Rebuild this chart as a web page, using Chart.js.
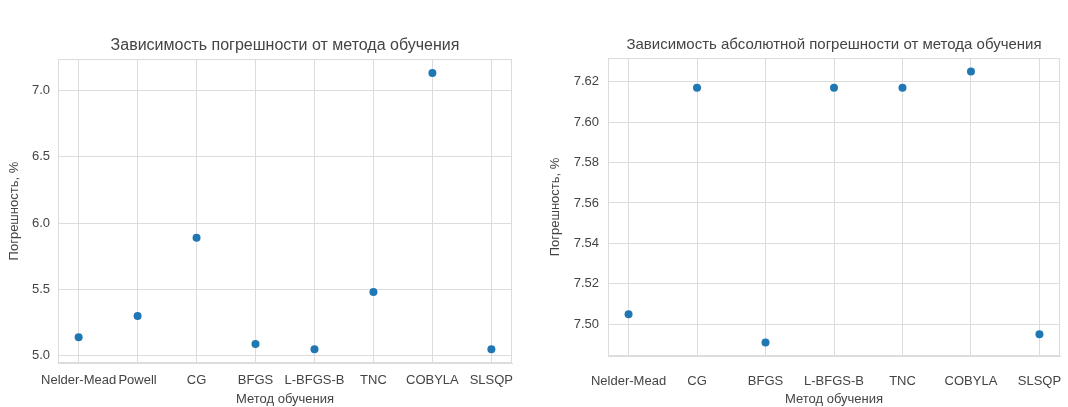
<!DOCTYPE html>
<html>
<head>
<meta charset="utf-8">
<script src="https://cdn.jsdelivr.net/npm/chart.js@4"></script>
<style>
    body { margin: 0; background: #fff; width: 1068px; height: 407px; overflow: hidden; position: relative; }
    .box { position: absolute; top: 0; width: 534px; height: 407px; }
</style>
</head>
<body>
<div class="box" style="left: 0;"><canvas id="errorChart" width="534" height="407"></canvas></div>
<div class="box" style="left: 534px;"><canvas id="absErrorChart" width="534" height="407"></canvas></div>
<script>
// Data
const errorMethods = ['Nelder-Mead', 'Powell', 'CG', 'BFGS', 'L-BFGS-B', 'TNC', 'COBYLA', 'SLSQP'];
const errorValues = [5.14, 5.30, 5.89, 5.09, 5.05, 5.48, 7.13, 5.05];
const errorTicks = [5.0, 5.5, 6.0, 6.5, 7.0];

const absMethods = ['Nelder-Mead', 'CG', 'BFGS', 'L-BFGS-B', 'TNC', 'COBYLA', 'SLSQP'];
const absValues = [7.505, 7.617, 7.491, 7.617, 7.617, 7.625, 7.495];
const absTicks = [7.50, 7.52, 7.54, 7.56, 7.58, 7.60, 7.62];

// Style
const BLUE = '#1f77b4';
const TEXT = '#444444';
const GRID = '#dcdcdc';
Chart.defaults.font.family = "'Liberation Sans', Arial, sans-serif";

// draw the light frame around the plot area (matplotlib-style spines)
const framePlugin = {
    id: 'frame',
    afterDatasetsDraw(chart) {
        const { ctx, chartArea: a } = chart;
        ctx.save();
        ctx.strokeStyle = GRID;
        ctx.lineWidth = 1;
        ctx.strokeRect(Math.round(a.left) + 0.5, Math.round(a.top) + 0.5,
            Math.round(a.right - a.left) - 1, Math.round(a.bottom - a.top) - 1);
        ctx.restore();
    }
};

function buildChart(id, o) {
    const n = o.labels.length;
    const xPad = (n - 1) * 0.05;
    const lo = Math.min(...o.values);
    const hi = Math.max(...o.values);
    const yPad = (hi - lo) * 0.05;

    return new Chart(document.getElementById(id), {
        type: 'scatter',
        data: {
            datasets: [{
                data: o.values.map((v, i) => ({ x: i, y: v })),
                backgroundColor: BLUE,
                borderWidth: 0,
                pointRadius: 4,
                pointHoverRadius: 4
            }]
        },
        options: {
            responsive: false,
            animation: false,
            layout: { padding: { left: 0, right: o.padRight, top: 0, bottom: 0 } },
            plugins: {
                legend: { display: false },
                tooltip: { enabled: false },
                title: {
                    display: true,
                    text: o.title,
                    fullSize: false,
                    color: TEXT,
                    font: { size: o.titleSize, weight: 'normal' },
                    padding: { top: o.titleTop, bottom: o.titleBottom }
                }
            },
            scales: {
                x: {
                    type: 'linear',
                    min: -xPad,
                    max: n - 1 + xPad,
                    afterBuildTicks: s => { s.ticks = o.labels.map((_, i) => ({ value: i })); },
                    afterFit: s => {
                        s.height = o.xHeight;
                        s.paddingLeft = 0;
                        s.paddingRight = 0;
                    },
                    grid: { color: GRID, drawTicks: false },
                    border: { color: GRID },
                    ticks: {
                        color: TEXT,
                        font: { size: 13 },
                        padding: o.xTickPad,
                        autoSkip: false,
                        maxRotation: 0,
                        callback: v => o.labels[v]
                    },
                    title: {
                        display: true,
                        text: 'Метод обучения',
                        color: TEXT,
                        font: { size: 13 },
                        padding: { top: 0, bottom: 0 }
                    }
                },
                y: {
                    min: lo - yPad,
                    max: hi + yPad,
                    afterBuildTicks: s => { s.ticks = o.yTicks.map(v => ({ value: v })); },
                    afterFit: s => { s.width = o.yWidth; },
                    grid: { color: GRID, drawTicks: false },
                    border: { color: GRID },
                    ticks: {
                        color: TEXT,
                        font: { size: 13 },
                        padding: o.yTickPad,
                        callback: v => v.toFixed(o.decimals)
                    },
                    title: {
                        display: true,
                        text: 'Погрешность, %',
                        color: TEXT,
                        font: { size: 13 },
                        padding: { top: o.yTitlePad, bottom: 0 }
                    }
                }
            }
        },
        plugins: [framePlugin]
    });
}

buildChart('errorChart', {
    title: 'Зависимость погрешности от метода обучения',
    titleSize: 16,
    labels: errorMethods,
    values: errorValues,
    yTicks: errorTicks,
    decimals: 1,
    padRight: 22,
    titleTop: 36,
    titleBottom: 4,
    xHeight: 44,
    xTickPad: 10,
    yWidth: 58,
    yTickPad: 8,
    yTitlePad: 7
});

buildChart('absErrorChart', {
    title: 'Зависимость абсолютной погрешности от метода обучения',
    titleSize: 15,
    labels: absMethods,
    values: absValues,
    yTicks: absTicks,
    decimals: 2,
    padRight: 8,
    titleTop: 36,
    titleBottom: 4,
    xHeight: 51,
    xTickPad: 18,
    yWidth: 74,
    yTickPad: 9,
    yTitlePad: 14
});
</script>
</body>
</html>
